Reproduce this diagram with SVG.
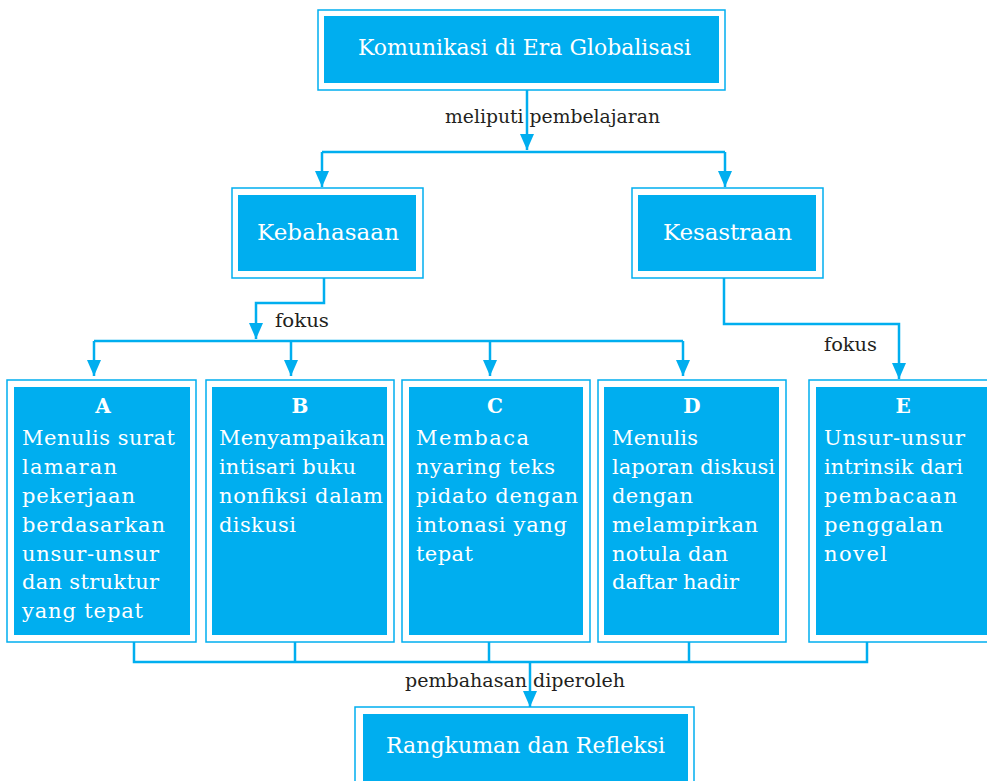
<svg xmlns="http://www.w3.org/2000/svg" width="987" height="781" viewBox="0 0 987 781">
<defs>
<marker id="arr" markerUnits="userSpaceOnUse" markerWidth="16" markerHeight="14" refX="16" refY="7" orient="auto" viewBox="0 0 16 14">
<path d="M0,0 L16,7 L0,14 z" fill="#00AEEF"/>
</marker>
<style>
.outer{fill:#fff;stroke:#00AEEF;stroke-width:1.5}
.inner{fill:#00AEEF}
text{font-family:"DejaVu Serif","Liberation Serif",serif}
.head{font-size:23px;fill:#fff}
.body{font-size:21px;fill:#fff}
.tag{font-size:20px;font-weight:bold;fill:#fff;text-anchor:middle}
.lbl{font-size:18.5px;fill:#231F20}
.con{fill:none;stroke:#00AEEF;stroke-width:2.5}
</style>
</defs>
<rect width="987" height="781" fill="#fff"/>
<g id="connectors">
<path class="con" d="M527,90 V150" marker-end="url(#arr)"/>
<path class="con" d="M322,152 H725"/>
<path class="con" d="M322,152 V187" marker-end="url(#arr)"/>
<path class="con" d="M725,152 V187" marker-end="url(#arr)"/>
<path class="con" d="M324,278 V303 H256 V339" marker-end="url(#arr)"/>
<path class="con" d="M94,341 H683"/>
<path class="con" d="M94,341 V376" marker-end="url(#arr)"/>
<path class="con" d="M291,341 V376" marker-end="url(#arr)"/>
<path class="con" d="M490,341 V376" marker-end="url(#arr)"/>
<path class="con" d="M683,341 V376" marker-end="url(#arr)"/>
<path class="con" d="M724,278 V324 H899 V379" marker-end="url(#arr)"/>
<path class="con" d="M134,642 V662 H867 V642"/>
<path class="con" d="M295,642 V662"/>
<path class="con" d="M489,642 V662"/>
<path class="con" d="M689,642 V662"/>
<path class="con" d="M530,662 V707" marker-end="url(#arr)"/>
<text class="lbl" x="445" y="123" textLength="215" lengthAdjust="spacingAndGlyphs">meliputi pembelajaran</text>
<text class="lbl" x="275" y="327" textLength="54" lengthAdjust="spacingAndGlyphs">fokus</text>
<text class="lbl" x="824" y="351" textLength="53" lengthAdjust="spacingAndGlyphs">fokus</text>
<text class="lbl" x="405" y="687" textLength="220" lengthAdjust="spacingAndGlyphs">pembahasan diperoleh</text>
</g>
<g id="top">
<rect class="outer" x="318" y="10" width="407" height="80"/>
<rect class="inner" x="324" y="16" width="395" height="67"/>
<text class="head" x="358" y="55" textLength="333" lengthAdjust="spacingAndGlyphs">Komunikasi di Era Globalisasi</text>
</g>
<g id="kebahasaan">
<rect class="outer" x="232" y="188" width="191" height="90"/>
<rect class="inner" x="238" y="195" width="178" height="76"/>
<text class="head" x="257" y="240" textLength="142" lengthAdjust="spacing">Kebahasaan</text>
</g>
<g id="kesastraan">
<rect class="outer" x="632" y="188" width="191" height="90"/>
<rect class="inner" x="638" y="195" width="178" height="76"/>
<text class="head" x="663" y="240" textLength="129" lengthAdjust="spacing">Kesastraan</text>
</g>
<g id="A">
<rect class="outer" x="7" y="380" width="189" height="262"/>
<rect class="inner" x="14" y="387" width="176" height="248"/>
<text class="tag" x="103" y="413">A</text>
<text class="body" x="22" y="445" textLength="153" lengthAdjust="spacing">Menulis surat</text>
<text class="body" x="22" y="474" textLength="95" lengthAdjust="spacing">lamaran</text>
<text class="body" x="22" y="503" textLength="113" lengthAdjust="spacing">pekerjaan</text>
<text class="body" x="22" y="532" textLength="143" lengthAdjust="spacing">berdasarkan</text>
<text class="body" x="22" y="561" textLength="137" lengthAdjust="spacing">unsur-unsur</text>
<text class="body" x="22" y="589" textLength="137" lengthAdjust="spacing">dan struktur</text>
<text class="body" x="22" y="618" textLength="121" lengthAdjust="spacing">yang tepat</text>
</g>
<g id="B">
<rect class="outer" x="206" y="380" width="188" height="262"/>
<rect class="inner" x="212" y="387" width="175" height="248"/>
<text class="tag" x="300" y="413">B</text>
<text class="body" x="219" y="445" textLength="166" lengthAdjust="spacing">Menyampaikan</text>
<text class="body" x="219" y="474" textLength="137" lengthAdjust="spacing">intisari buku</text>
<text class="body" x="219" y="503" textLength="164" lengthAdjust="spacing">nonfiksi dalam</text>
<text class="body" x="219" y="532" textLength="77" lengthAdjust="spacing">diskusi</text>
</g>
<g id="C">
<rect class="outer" x="402" y="380" width="188" height="262"/>
<rect class="inner" x="409" y="387" width="174" height="248"/>
<text class="tag" x="495" y="413">C</text>
<text class="body" x="416" y="445" textLength="113" lengthAdjust="spacing">Membaca</text>
<text class="body" x="416" y="474" textLength="139" lengthAdjust="spacing">nyaring teks</text>
<text class="body" x="416" y="503" textLength="162" lengthAdjust="spacing">pidato dengan</text>
<text class="body" x="416" y="532" textLength="151" lengthAdjust="spacing">intonasi yang</text>
<text class="body" x="416" y="561" textLength="57" lengthAdjust="spacing">tepat</text>
</g>
<g id="D">
<rect class="outer" x="598" y="380" width="188" height="262"/>
<rect class="inner" x="604" y="387" width="175" height="248"/>
<text class="tag" x="692" y="413">D</text>
<text class="body" x="612" y="445" textLength="86" lengthAdjust="spacing">Menulis</text>
<text class="body" x="612" y="474" textLength="163" lengthAdjust="spacing">laporan diskusi</text>
<text class="body" x="612" y="503" textLength="81" lengthAdjust="spacing">dengan</text>
<text class="body" x="612" y="532" textLength="146" lengthAdjust="spacing">melampirkan</text>
<text class="body" x="612" y="561" textLength="116" lengthAdjust="spacing">notula dan</text>
<text class="body" x="612" y="589" textLength="127" lengthAdjust="spacing">daftar hadir</text>
</g>
<g id="E">
<rect class="outer" x="809" y="380" width="200" height="262"/>
<rect class="inner" x="816" y="387" width="190" height="248"/>
<text class="tag" x="903" y="413">E</text>
<text class="body" x="824" y="445" textLength="141" lengthAdjust="spacing">Unsur-unsur</text>
<text class="body" x="824" y="474" textLength="139" lengthAdjust="spacing">intrinsik dari</text>
<text class="body" x="824" y="503" textLength="133" lengthAdjust="spacing">pembacaan</text>
<text class="body" x="824" y="532" textLength="119" lengthAdjust="spacing">penggalan</text>
<text class="body" x="824" y="561" textLength="63" lengthAdjust="spacing">novel</text>
</g>
<g id="rangkuman">
<rect class="outer" x="355" y="707" width="339" height="90"/>
<rect class="inner" x="363" y="714" width="325" height="80"/>
<text class="head" x="386" y="753" textLength="279" lengthAdjust="spacingAndGlyphs">Rangkuman dan Refleksi</text>
</g>
</svg>
